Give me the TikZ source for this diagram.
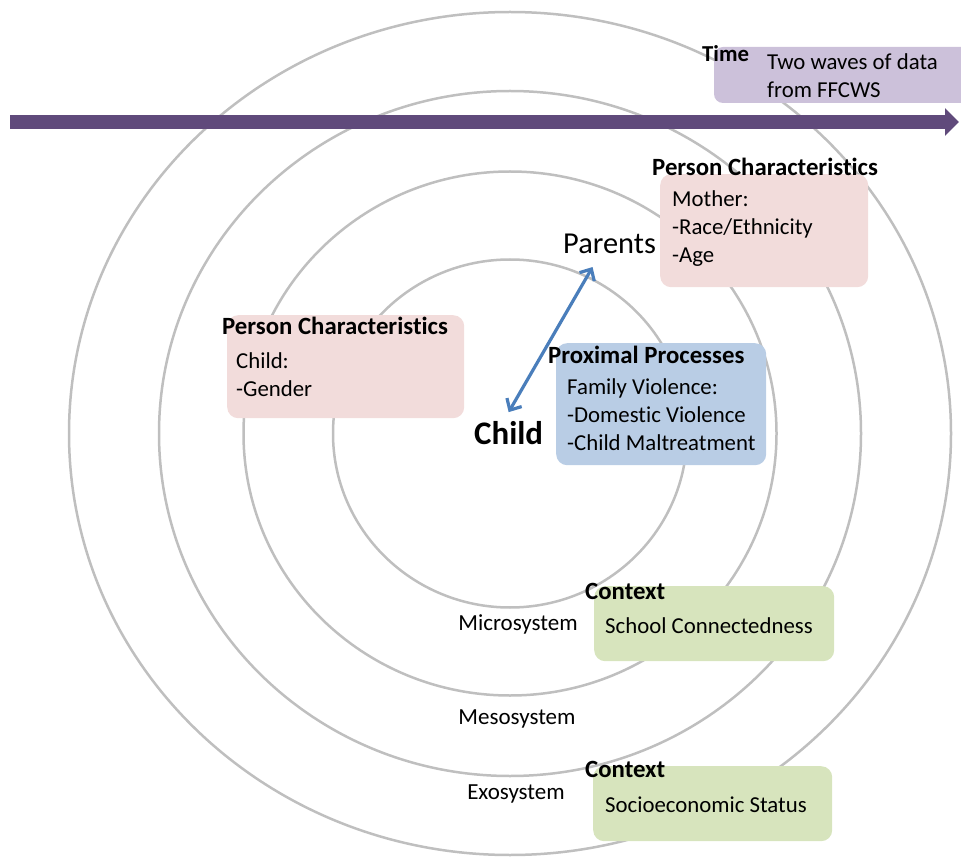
\documentclass[tikz,border=0pt]{standalone}
\usepackage{fontspec}
\setmainfont{Carlito}[Ligatures=NoCommon]
\usetikzlibrary{arrows.meta}

\definecolor{ringgray}{HTML}{BFBFBF}
\definecolor{timebar}{HTML}{604A7B}
\definecolor{timefill}{HTML}{CCC1DA}
\definecolor{pinkfill}{HTML}{F2DCDB}
\definecolor{bluefill}{HTML}{B9CDE5}
\definecolor{greenfill}{HTML}{D7E4BD}
\definecolor{linkblue}{HTML}{4A7EBB}

\begin{document}
\begin{tikzpicture}[x=1pt,y=-1pt,
  ring/.style={draw=ringgray, line width=2.5pt},
  colbox/.style={rounded corners=11pt, inner sep=0pt, anchor=north west},
  boxtitle/.style={font=\bfseries\fontsize{24.8}{30}\selectfont, inner sep=0pt, anchor=west},
  boxbody/.style={font=\fontsize{22.8}{28}\selectfont, inner sep=0pt, anchor=west, align=left},
  syslabel/.style={font=\fontsize{23}{27}\selectfont, inner sep=0pt},
  biglabel/.style={font=\fontsize{30.4}{35}\selectfont, inner sep=0pt, anchor=west}]
\useasboundingbox (0,0) rectangle (961,858);

\draw[ring] (510,433.5) ellipse [x radius=177pt, y radius=174pt];
\draw[ring] (510,433.5) ellipse [x radius=266.5pt, y radius=262pt];
\draw[ring] (510,433.5) ellipse [x radius=351pt, y radius=342.5pt];
\draw[ring] (510,433.5) ellipse [x radius=441pt, y radius=421.5pt];

\coordinate (timestart) at (10,122);
\coordinate (timeend) at (959,122);
\draw[timebar, line width=14pt, -{Triangle[length=14pt, width=27pt]}] (timestart) -- (timeend);

\fill[timefill] (961,47) [rounded corners=9pt] -- (714,47) -- (714,103) [sharp corners] -- (961,103) -- cycle;
\node[boxtitle, font=\bfseries\fontsize{22.8}{28}\selectfont] (timetitle) at (702,54) {Time};
\node[boxbody] (timetext) at (767,76) {Two waves of data\\from FFCWS};

\node[colbox, fill=pinkfill, minimum width=208pt, minimum height=113pt] (motherbox) at (660,174) {};
\node[boxtitle] (mothertitle) at (652,167) {Person Characteristics};
\node[boxbody] (mothertext) at (672,229) {Mother:\\-Race/Ethnicity\\-Age};

\node[colbox, fill=pinkfill, minimum width=237pt, minimum height=103pt] (childbox) at (227,315) {};
\node[boxtitle] (childtitle) at (222,326) {Person Characteristics};
\node[boxbody] (childtext) at (236,375) {Child:\\-Gender};

\node[colbox, fill=bluefill, minimum width=210pt, minimum height=122pt] (procbox) at (556,343) {};
\node[boxtitle] (proctitle) at (548,355) {Proximal Processes};
\node[boxbody] (proctext) at (567,415) {Family Violence:\\-Domestic Violence\\-Child Maltreatment};

\node[colbox, fill=greenfill, minimum width=240pt, minimum height=75pt] (schoolbox) at (594,586) {};
\node[boxtitle] (schooltitle) at (585,591) {Context};
\node[boxbody] (schooltext) at (605,626) {School Connectedness};

\node[colbox, fill=greenfill, minimum width=239pt, minimum height=75pt] (sesbox) at (593,766) {};
\node[boxtitle] (sestitle) at (585,769) {Context};
\node[boxbody] (sestext) at (605,805) {Socioeconomic Status};

\node[biglabel] (parents) at (563,244) {Parents};
\node[biglabel, font=\bfseries\fontsize{32.9}{38}\selectfont] (child) at (474,433) {Child};
\draw[linkblue, line width=3.2pt, {Straight Barb[length=9pt, width=17pt]}-{Straight Barb[length=9pt, width=17pt]}]
  ([xshift=0pt, yshift=9pt]child.north) -- ([xshift=-17pt, yshift=-13pt]parents.south);

\node[syslabel] (micro) at (518,624) {Microsystem};
\node[syslabel] (meso) at (517,719) {Mesosystem};
\node[syslabel] (exo) at (516,794) {Exosystem};
\end{tikzpicture}
\end{document}
